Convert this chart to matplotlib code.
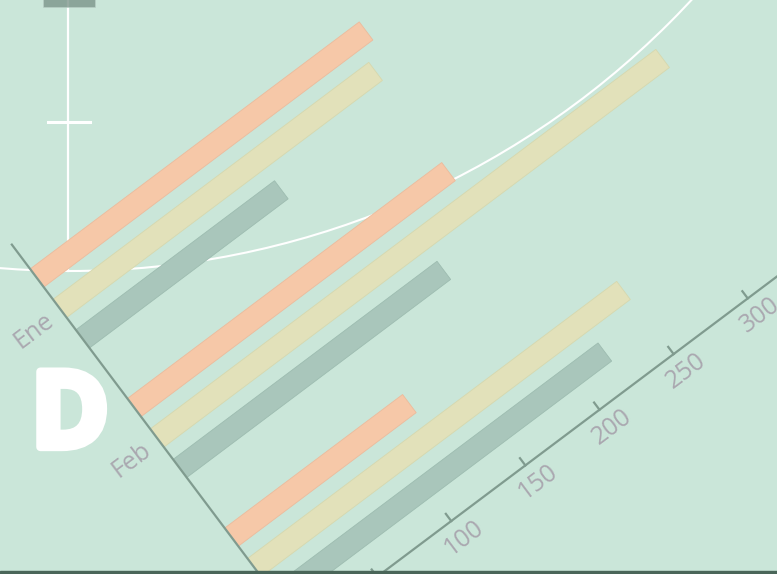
import numpy as np
import matplotlib
matplotlib.use('Agg')
import matplotlib.pyplot as plt
import matplotlib.patheffects as pe
from matplotlib.transforms import Affine2D
from matplotlib.patches import Rectangle, Circle

# ---------------- data ----------------
categories = ['Ene', 'Feb', 'Mar']
series_a = [222, 212, 120]
series_b = [213, 341, 249]
series_c = [134, 178, 221]
value_ticks = [0, 50, 100, 150, 200, 250, 300, 350]
value_tick_labels = ['', '', '100', '150', '200', '250', '300', '']
value_max = 400

# ---------------- figure ----------------
W, H = 777, 574
BG = '#cae6d9'
AXC = '#809b8f'
TXT = '#aaa8b0'
fig = plt.figure(figsize=(W / 100, H / 100), dpi=100)
fig.patch.set_facecolor(BG)
ax = fig.add_axes([0, 0, 1, 1])
ax.set_xlim(0, W)
ax.set_ylim(H, 0)
ax.set_autoscale_on(False)
ax.axis('off')

# rotated chart frame: (value, category index) -> pixel
ang = 36.9
theta = np.deg2rad(ang)
k = 1.854      # px per value unit
C = 162.0      # px per category
O = (59.8, 308.5)
ux, uy = np.cos(theta), -np.sin(theta)
wx, wy = np.sin(theta), np.cos(theta)
rot = Affine2D(np.array([[k * ux, C * wx, O[0]],
                         [k * uy, C * wy, O[1]],
                         [0, 0, 1]]))
T = rot + ax.transData

# ---------------- background decorations ----------------
ax.add_patch(Circle((70, -577), 848, fill=False, ec='white', lw=1.5, zorder=1))
ax.plot([68, 68], [0, 271], color='white', lw=1.6, zorder=1)
ax.plot([48, 90], [122, 122], color='white', lw=2.2, zorder=1)
ax.add_patch(Rectangle((43, -1), 52, 7.7, fc='#789187', alpha=0.76,
                       ec='#b9cfc6', lw=0.6, zorder=2))
ax.text(70, 447, 'D', fontsize=76, fontweight='bold', color='white',
        family=['Open Sans', 'DejaVu Sans'], ha='center', va='baseline', zorder=2,
        path_effects=[pe.withStroke(linewidth=6, foreground='white')])

# ---------------- bars ----------------
ypos = np.arange(len(categories))
offsets = [-0.235, 0.0, 0.235]
colors = ['#f6c8a8', '#e2e1ba', '#a9c6bb']
edges = ['#ecbb9c', '#d6d8ae', '#9dbcb0']
for vals, off, col, ec in zip([series_a, series_b, series_c], offsets, colors, edges):
    ax.barh(ypos + off, vals, height=0.14, left=0, color=col, edgecolor=ec,
            linewidth=0.6, transform=T, zorder=3)

# ---------------- axes ----------------
ymin, ymax = -0.5, len(categories) - 0.5
ax.plot([0, 0], [ymin, ymax], color=AXC, lw=1.6, transform=T, zorder=4,
        solid_capstyle='butt')
ax.plot([0, value_max], [ymax, ymax], color=AXC, lw=1.6,
        transform=T, zorder=4, solid_capstyle='butt')
for t, lab in zip(value_ticks, value_tick_labels):
    ax.plot([t, t], [ymax, ymax - 9 / C], color=AXC, lw=1.6, transform=T, zorder=4)
    if lab:
        ax.text(t, ymax + 21 / C, lab, transform=T, rotation=ang, rotation_mode='anchor',
                ha='center', va='center', fontsize=18, color=TXT,
                family=['Open Sans', 'DejaVu Sans'], zorder=4)
for i, cat in enumerate(categories):
    ax.text(-34 / k, i + 2 / C, cat, transform=T, rotation=ang, rotation_mode='anchor',
            ha='center', va='center', fontsize=18, color=TXT,
            family=['Open Sans', 'DejaVu Sans'], zorder=4)

# bottom band
ax.add_patch(Rectangle((0, 571), W, 4, color='#4a6659', zorder=5))

fig.savefig('out.png', dpi=100, facecolor=BG)
